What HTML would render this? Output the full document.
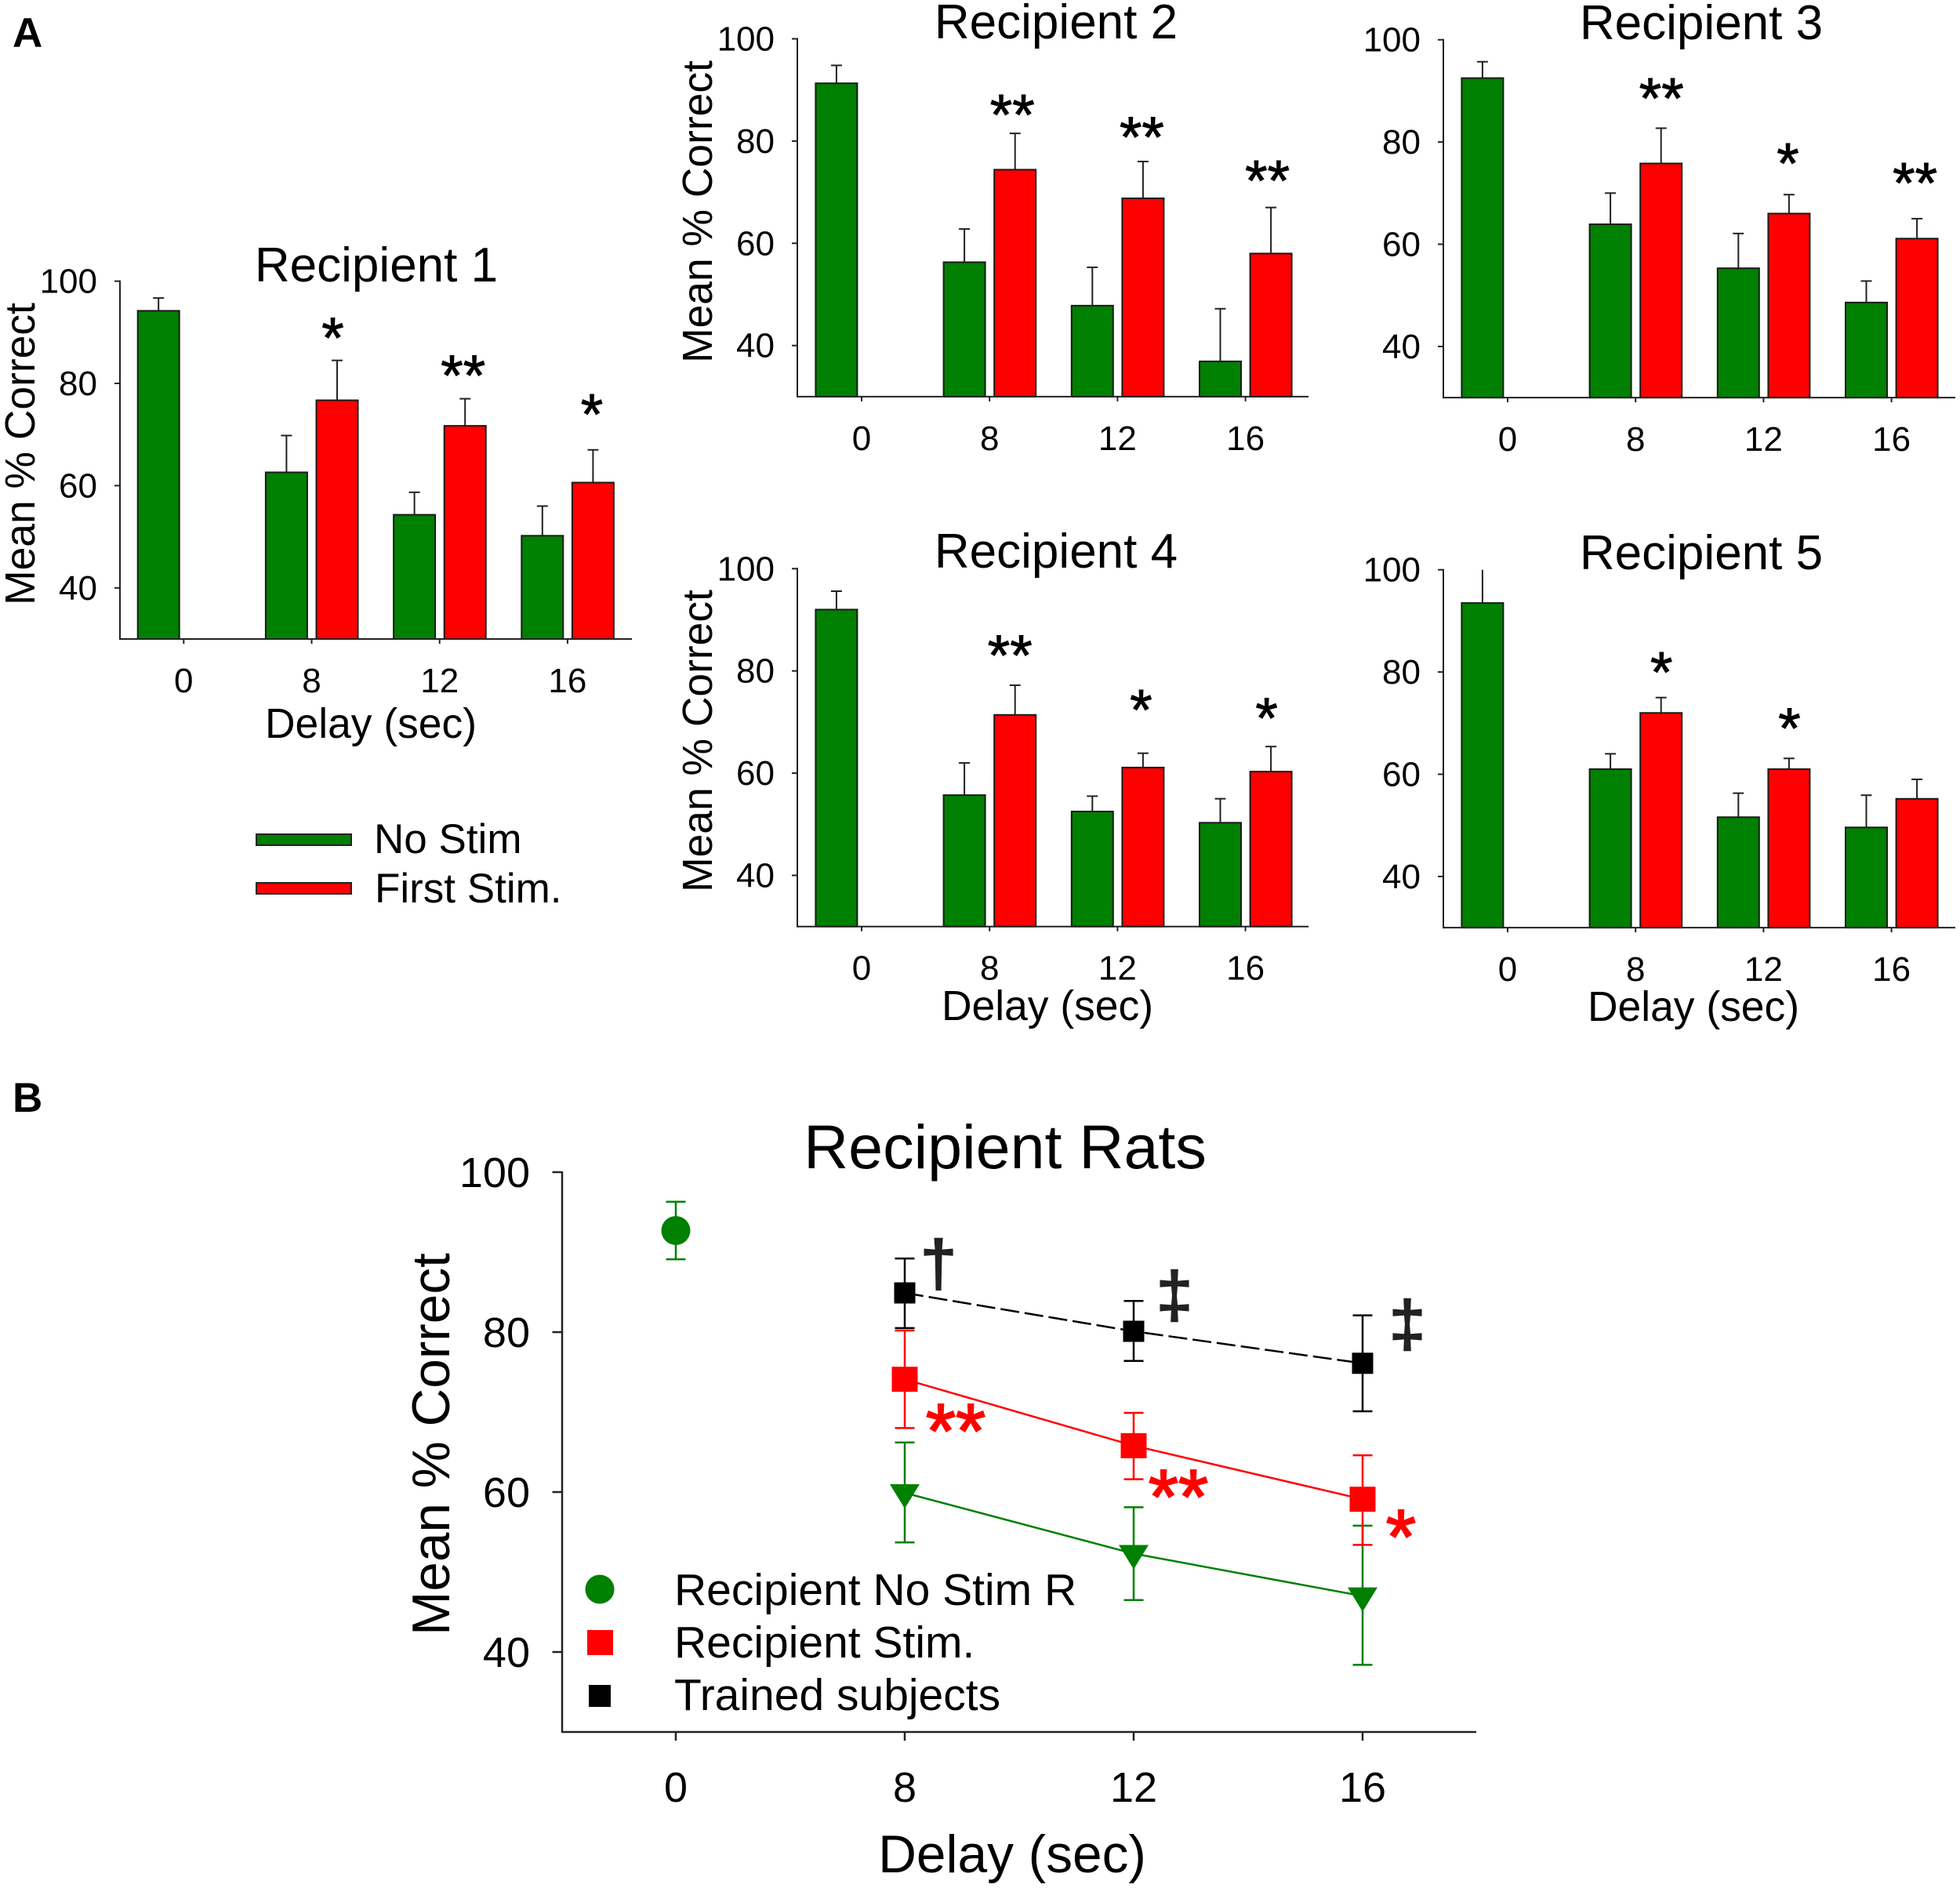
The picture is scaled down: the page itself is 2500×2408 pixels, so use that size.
<!DOCTYPE html>
<html lang="en">
<head>
<meta charset="utf-8">
<title>Mean percent correct by delay for recipient rats</title>
<style>
html,body{margin:0;padding:0;background:#fff;}
svg{display:block;font-family:"Liberation Sans",Arial,sans-serif;fill:#000;}
</style>
</head>
<body>
<svg id="fig" xmlns="http://www.w3.org/2000/svg" width="2500" height="2408" viewBox="0 0 2500 2408">
  <rect x="0" y="0" width="2500" height="2408" fill="#fff"/>
  <text x="16" y="60" font-size="53" font-weight="bold">A</text>
  <text x="16" y="1418" font-size="53" font-weight="bold">B</text>

  <text x="480" y="359" font-size="62" text-anchor="middle">Recipient 1</text>
  <text x="1347" y="49" font-size="62" text-anchor="middle">Recipient 2</text>
  <text x="2170" y="50" font-size="62" text-anchor="middle">Recipient 3</text>
  <text x="1347" y="724" font-size="62" text-anchor="middle">Recipient 4</text>
  <text x="2170" y="726" font-size="62" text-anchor="middle">Recipient 5</text>

  <text transform="translate(44,579) rotate(-90)" font-size="53.4" text-anchor="middle">Mean % Correct</text>
  <text transform="translate(908,270) rotate(-90)" font-size="53.4" text-anchor="middle">Mean % Correct</text>
  <text transform="translate(908,945) rotate(-90)" font-size="53.4" text-anchor="middle">Mean % Correct</text>

  <text x="473" y="941" font-size="53.4" text-anchor="middle">Delay (sec)</text>
  <text x="1336" y="1301" font-size="53.4" text-anchor="middle">Delay (sec)</text>
  <text x="2160" y="1302" font-size="53.4" text-anchor="middle">Delay (sec)</text>

  <g>
    <rect x="327" y="1064" width="121" height="14" fill="#008000" stroke="#222" stroke-width="2"/>
    <text x="477" y="1088" font-size="53">No Stim</text>
    <rect x="327" y="1126" width="121" height="14" fill="#ff0000" stroke="#222" stroke-width="2"/>
    <text x="478" y="1151" font-size="53">First Stim.</text>
  </g>

  <text x="1282" y="1490" font-size="79" text-anchor="middle">Recipient Rats</text>
  <text transform="translate(573,1842) rotate(-90)" font-size="67.5" text-anchor="middle">Mean % Correct</text>
  <text x="1291" y="2388" font-size="67.6" text-anchor="middle">Delay (sec)</text>

  <g>
    <circle cx="765" cy="2027" r="18.5" fill="#008000"/>
    <text x="860" y="2047" font-size="57">Recipient No Stim R</text>
    <rect x="749" y="2079" width="33" height="32" fill="#ff0000"/>
    <text x="860" y="2114" font-size="57">Recipient Stim.</text>
    <rect x="751" y="2149" width="28" height="28" fill="#000"/>
    <text x="860" y="2181" font-size="57">Trained subjects</text>
  </g>

  <text x="1197" y="1639" font-size="82" text-anchor="middle" fill="#222" stroke="#222" stroke-width="2.5">†</text>
  <text x="1498" y="1679" font-size="82" text-anchor="middle" fill="#222" stroke="#222" stroke-width="2.5">‡</text>
  <text x="1795" y="1716" font-size="82" text-anchor="middle" fill="#222" stroke="#222" stroke-width="2.5">‡</text>
</svg>

<script>
// Shared axis labels
const delayLabels = ['0', '8', '12', '16'];
const percentTicks = [100, 80, 60, 40];

// Recipient 1
const r1NoStim = [94.2, 62.6, 54.3, 50.2];
const r1NoStimUpper = [96.7, 69.8, 58.7, 56];
const r1Stim = [76.7, 71.7, 60.6];
const r1StimUpper = [84.5, 77, 67];
const r1Sig = ['*', '**', '*'];
const r1SigLevel = [90.7, 83.4, 75.8];

// Recipient 2
const r2NoStim = [91.3, 56.3, 47.8, 36.9];
const r2NoStimUpper = [94.8, 62.8, 55.3, 47.2];
const r2Stim = [74.4, 68.8, 58];
const r2StimUpper = [81.5, 76, 67];
const r2Sig = ['**', '**', '**'];
const r2SigLevel = [87, 82.6, 74.1];

// Recipient 3
const r3NoStim = [92.5, 63.9, 55.3, 48.6];
const r3NoStimUpper = [95.7, 70, 62.1, 52.8];
const r3Stim = [75.8, 66, 61.1];
const r3StimUpper = [82.7, 69.7, 65];
const r3Sig = ['**', '*', '**'];
const r3SigLevel = [90.4, 77.6, 73.8];

// Recipient 4
const r4NoStim = [92, 55.7, 52.5, 50.3];
const r4NoStimUpper = [95.6, 62, 55.5, 55];
const r4Stim = [71.4, 61.1, 60.3];
const r4StimUpper = [77.2, 63.9, 65.2];
const r4Sig = ['**', '*', '*'];
const r4SigLevel = [84.9, 74.2, 72.6];

// Recipient 5
const r5NoStim = [93.5, 61, 51.6, 49.6];
const r5NoStimUpper = [100, 64, 56.3, 55.9];
const r5Stim = [72, 61, 55.2];
const r5StimUpper = [75, 63.1, 59];
const r5Sig = ['*', '*', ''];
const r5SigLevel = [81.8, 70.8, 0];

// Panel B: group means with lower and upper error limits
const ratDelays = ['0', '8', '12', '16'];
const baselineMean = [92.7];
const baselineLower = [89.1];
const baselineUpper = [96.3];
const noStimMean = [59.9, 52.3, 47];
const noStimLower = [53.7, 46.5, 38.4];
const noStimUpper = [66.2, 58.1, 55.8];
const stimMean = [74.1, 65.8, 59.1];
const stimLower = [68, 61.6, 53.4];
const stimUpper = [80.2, 69.9, 64.6];
const trainedMean = [84.9, 80.1, 76.1];
const trainedLower = [80.5, 76.4, 70.1];
const trainedUpper = [89.2, 83.9, 82.1];
const ratSig = ['**', '**', '*'];
const ratSigLevel = [69.1, 60.9, 55.9];

const SVGNS = 'http://www.w3.org/2000/svg';
const fig = document.getElementById('fig');
const GREEN = '#008000';
const RED = '#ff0000';
const INK = '#222';

function add(parent, tag, name, attrs, text) {
  const el = document.createElementNS(SVGNS, tag);
  
  
  for (const k in attrs) el.setAttribute(k, attrs[k]);
  if (text !== undefined) el.textContent = text;
  parent.appendChild(el);
  return el;
}

function hLine(p, name, x1, x2, y, color, w) {
  return add(p, 'line', name, {x1: x1, x2: x2, y1: y, y2: y, stroke: color, 'stroke-width': w});
}
function vLine(p, name, x, y1, y2, color, w) {
  return add(p, 'line', name, {x1: x, x2: x, y1: y1, y2: y2, stroke: color, 'stroke-width': w});
}

function drawBarPanel(id, geo, noStim, noStimUpper, stim, stimUpper, sig, sigLevel) {
  const g = add(fig, 'g', id + '-chart', {});
  const yScale = v => geo.y100 + (100 - v) * geo.unit;
  const xScale = i => geo.x0 + i * 163.2;
  const base = yScale(30);

  function bar(name, left, value, upper, color) {
    const cx = left + 26.5;
    vLine(g, name + '-error-stem', cx, yScale(upper), yScale(value), INK, 2);
    if (upper < 100) hLine(g, name + '-error-cap', cx - 7, cx + 7, yScale(upper), INK, 2);
    add(g, 'rect', name, {
      x: left, y: yScale(value), width: 53, height: base - yScale(value),
      fill: color, stroke: '#1a1a1a', 'stroke-width': 2
    });
  }

  noStim.forEach((v, i) => {
    bar(id + '-no-stim-bar-' + delayLabels[i], xScale(i) - 58.6, v, noStimUpper[i], GREEN);
  });
  stim.forEach((v, i) => {
    bar(id + '-stim-bar-' + delayLabels[i + 1], xScale(i + 1) + 6, v, stimUpper[i], RED);
  });

  sig.forEach((s, i) => {
    if (!s) return;
    add(g, 'text', id + '-significance-' + delayLabels[i + 1], {
      x: xScale(i + 1) + geo.sigDx[i], y: yScale(sigLevel[i]) + 37,
      'font-size': 73, 'text-anchor': 'middle', stroke: '#000', 'stroke-width': 1
    }, s);
  });

  vLine(g, id + '-y-axis', geo.axisX, yScale(100) - 1, base + 1, INK, 2);
  hLine(g, id + '-x-axis', geo.axisX, geo.right, base, INK, 2);

  percentTicks.forEach(t => {
    hLine(g, id + '-y-tick-' + t, geo.axisX - 7, geo.axisX, yScale(t), INK, 2);
    add(g, 'text', id + '-y-tick-label-' + t, {
      x: geo.axisX - 29, y: yScale(t) + 15, 'font-size': 44, 'text-anchor': 'end'
    }, String(t));
  });
  delayLabels.forEach((lab, i) => {
    vLine(g, id + '-x-tick-' + lab, xScale(i), base, base + 6, INK, 2);
    add(g, 'text', id + '-x-tick-label-' + lab, {
      x: xScale(i), y: base + 68, 'font-size': 44, 'text-anchor': 'middle'
    }, lab);
  });
}

drawBarPanel('recipient-1', {axisX: 153, y100: 358.6, unit: 6.52, x0: 234.3, right: 806, sigDx: [27, 30, 31]},
  r1NoStim, r1NoStimUpper, r1Stim, r1StimUpper, r1Sig, r1SigLevel);
drawBarPanel('recipient-2', {axisX: 1017, y100: 49.5, unit: 6.52, x0: 1099, right: 1669, sigDx: [29, 31, 28]},
  r2NoStim, r2NoStimUpper, r2Stim, r2StimUpper, r2Sig, r2SigLevel);
drawBarPanel('recipient-3', {axisX: 1841, y100: 50.7, unit: 6.52, x0: 1923, right: 2494, sigDx: [33, 31, 30]},
  r3NoStim, r3NoStimUpper, r3Stim, r3StimUpper, r3Sig, r3SigLevel);
drawBarPanel('recipient-4', {axisX: 1017, y100: 725.3, unit: 6.52, x0: 1099, right: 1669, sigDx: [26, 30, 27]},
  r4NoStim, r4NoStimUpper, r4Stim, r4StimUpper, r4Sig, r4SigLevel);
drawBarPanel('recipient-5', {axisX: 1841, y100: 726.7, unit: 6.52, x0: 1923, right: 2494, sigDx: [33, 33, 30]},
  r5NoStim, r5NoStimUpper, r5Stim, r5StimUpper, r5Sig, r5SigLevel);

// Panel B
(function drawRats() {
  const g = add(fig, 'g', 'recipient-rats-chart', {});
  const axisX = 717, right = 1883;
  const yB = v => 1495 + (100 - v) * 10.2;
  const xB = i => 862 + i * 292;
  const base = yB(30);

  function errorBar(name, i, lo, hi, color) {
    const x = xB(i);
    vLine(g, name + '-stem', x, yB(hi), yB(lo), color, 2.5);
    hLine(g, name + '-cap-top', x - 12.5, x + 12.5, yB(hi), color, 2.5);
    hLine(g, name + '-cap-bottom', x - 12.5, x + 12.5, yB(lo), color, 2.5);
  }
  function seriesLine(name, values, color, dash) {
    const pts = values.map((v, i) => xB(i + 1) + ',' + yB(v)).join(' ');
    const attrs = {points: pts, fill: 'none', stroke: color, 'stroke-width': 2.5};
    if (dash) attrs['stroke-dasharray'] = dash;
    add(g, 'polyline', name, attrs);
  }

  seriesLine('no-stim-line', noStimMean, GREEN);
  seriesLine('stim-line', stimMean, RED);
  seriesLine('trained-line', trainedMean, '#000', '24 7');

  baselineMean.forEach((v, i) => {
    errorBar('baseline-error', i, baselineLower[i], baselineUpper[i], GREEN);
    add(g, 'circle', 'baseline-point', {cx: xB(i), cy: yB(v), r: 18.5, fill: GREEN});
  });
  trainedMean.forEach((v, i) => {
    const lab = ratDelays[i + 1];
    errorBar('trained-error-' + lab, i + 1, trainedLower[i], trainedUpper[i], '#000');
    add(g, 'rect', 'trained-point-' + lab, {x: xB(i + 1) - 13.5, y: yB(v) - 13.5, width: 27, height: 27, fill: '#000'});
  });
  noStimMean.forEach((v, i) => {
    const lab = ratDelays[i + 1];
    const x = xB(i + 1), y = yB(v);
    errorBar('no-stim-error-' + lab, i + 1, noStimLower[i], noStimUpper[i], GREEN);
    add(g, 'polygon', 'no-stim-point-' + lab, {
      points: (x - 19) + ',' + (y - 11) + ' ' + (x + 19) + ',' + (y - 11) + ' ' + x + ',' + (y + 20),
      fill: GREEN
    });
  });
  stimMean.forEach((v, i) => {
    const lab = ratDelays[i + 1];
    errorBar('stim-error-' + lab, i + 1, stimLower[i], stimUpper[i], RED);
    add(g, 'rect', 'stim-point-' + lab, {x: xB(i + 1) - 16.5, y: yB(v) - 16, width: 33, height: 32, fill: RED});
  });

  const sigOffsets = i => 65 - i * 8;
  ratSig.forEach((s, i) => {
    add(g, 'text', 'stim-significance-' + ratDelays[i + 1], {
      x: xB(i + 1) + sigOffsets(i), y: yB(ratSigLevel[i]) + 49,
      'font-size': 98, 'text-anchor': 'middle', fill: RED, stroke: RED, 'stroke-width': 2
    }, s);
  });

  vLine(g, 'rats-y-axis', axisX, yB(100) - 1, base + 1, INK, 2.5);
  hLine(g, 'rats-x-axis', axisX, right, base, INK, 2.5);
  percentTicks.forEach(t => {
    hLine(g, 'rats-y-tick-' + t, axisX - 12.5, axisX, yB(t), INK, 2.5);
    add(g, 'text', 'rats-y-tick-label-' + t, {
      x: axisX - 41, y: yB(t) + 19, 'font-size': 54, 'text-anchor': 'end'
    }, String(t));
  });
  ratDelays.forEach((lab, i) => {
    vLine(g, 'rats-x-tick-' + lab, xB(i), base, base + 11, INK, 2.5);
    add(g, 'text', 'rats-x-tick-label-' + lab, {
      x: xB(i), y: base + 89, 'font-size': 54, 'text-anchor': 'middle'
    }, lab);
  });
})();
</script>
</body>
</html>
